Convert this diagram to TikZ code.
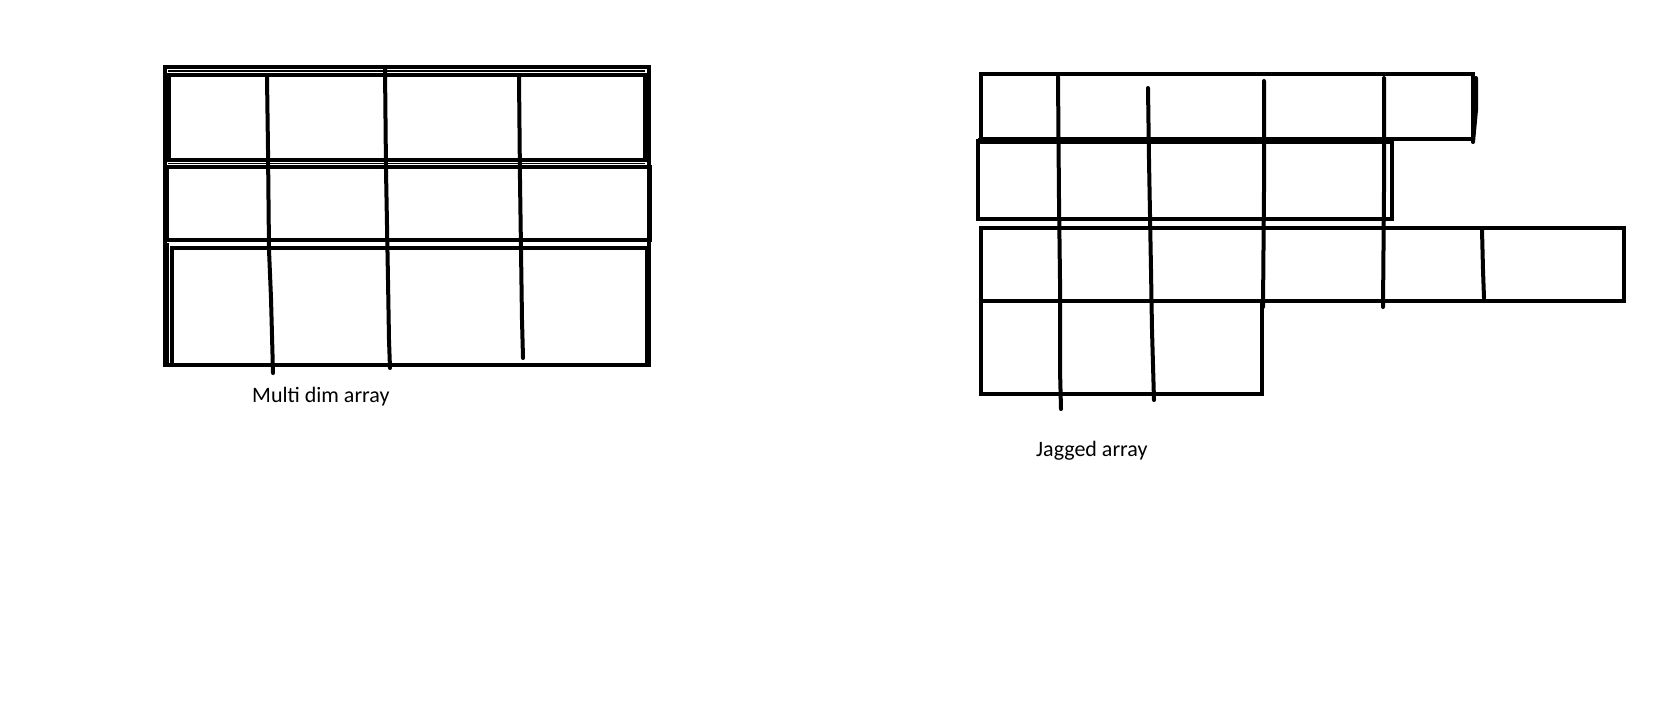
\documentclass[tikz,border=0pt]{standalone}
\usepackage{fontspec}
\setmainfont{Carlito}
\begin{document}
\begin{tikzpicture}[x=1pt,y=-1pt,
  pen/.style={draw=black,line width=4pt,line join=miter},
  thinpen/.style={draw=black,line width=1.5pt},
  stroke/.style={draw=black,line width=4pt,line cap=round},
  lbl/.style={anchor=base west,inner sep=0pt,font=\fontsize{22}{26}\selectfont}]
\useasboundingbox[fill=white] (0,0) rectangle (1665,716);
% ---- Multi dim array ----
\draw[pen] (165,67) rectangle (649,365);
\draw[pen] (169,75) rectangle (645,160);
\draw[thinpen] (168,71) -- (645,71);
\draw[thinpen] (168,163.5) -- (645,163.5);
\draw[pen] (167,167) rectangle (650,240);
\draw[thinpen] (168,243) -- (168,363);
\draw[pen] (172,248) rectangle (647,365);
\draw[stroke] (267,77) -- (268,150) -- (269,250) -- (271,298) -- (273,373);
\draw[stroke] (385,68) -- (386,170) -- (388,280) -- (389,340) -- (390,368);
\draw[stroke] (519,77) -- (520,180) -- (521,250) -- (522,320) -- (523,358);
\node[lbl] (multi) at (252,402) {Multi dim array};
% ---- Jagged array ----
\draw[pen] (981,74) rectangle (1473,139);
\draw[stroke] (1476,78) -- (1476,110) -- (1473,142);
\draw[pen] (978,141) rectangle (1392,219);
\draw[line width=6pt] (978,141) -- (1392,141);
\draw[pen] (981,228) rectangle (1624,301);
\draw[pen] (981,301) rectangle (1262,394);
\draw[stroke] (1058,77) -- (1059,200) -- (1060,280) -- (1060,370) -- (1061,409);
\draw[stroke] (1148,88) -- (1149,160) -- (1151,270) -- (1152,330) -- (1154,400);
\draw[stroke] (1264,81) -- (1264,190) -- (1263,307);
\draw[stroke] (1384,78) -- (1384,190) -- (1383,307);
\draw[stroke] (1482,230) -- (1483,270) -- (1484,298);
\node[lbl] (jagged) at (1036,456) {Jagged array};
\end{tikzpicture}
\end{document}
